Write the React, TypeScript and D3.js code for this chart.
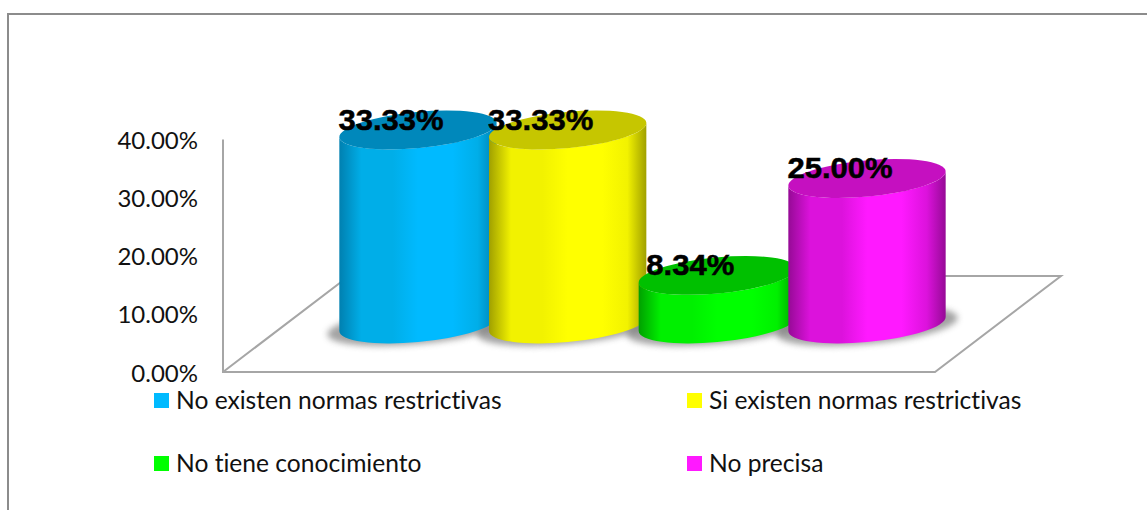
import React from "react";
import * as d3 from "d3";

const categories = ["No existen normas restrictivas", "Si existen normas restrictivas", "No tiene conocimiento", "No precisa"];
const values = [33.33, 33.33, 8.34, 25.0];
const valueLabels = ["33.33%", "33.33%", "8.34%", "25.00%"];
const tickValues = [0, 10, 20, 30, 40];
const tickLabels = ["0.00%", "10.00%", "20.00%", "30.00%", "40.00%"];
const sideColors = ["#00baff", "#ffff00", "#00ff00", "#ff19ff"];
const edgeColors = ["#0080b0", "#a0a000", "#00a000", "#960a96"];
const midColors = ["#00aee8", "#f2f200", "#00f000", "#dc12dc"];
const topColors = ["#0088bb", "#c6c600", "#00c000", "#c510c0"];

const W = 1147, H = 510;
const axisY = d3.scaleLinear().domain([0, 40]).range([372, 139.5]);
const barDepth = d3.scaleLinear().domain([0, 40]).range([0, 232.8]);
const xBand = d3.scalePoint<number>().domain([0, 1, 2, 3]).range([418, 867]);
const BASE_Y = 324, RX = 79, RY = 18, TILT = -5.4;
const rad = (TILT * Math.PI) / 180;
const tx = Math.sqrt(RX * RX * Math.cos(rad) ** 2 + RY * RY * Math.sin(rad) ** 2);
const ty = ((RX * RX - RY * RY) * Math.sin(-rad) * Math.cos(rad)) / tx;

function body(cx: number, top: number, base: number) {
  return `M${cx - tx},${top + ty} L${cx - tx},${base + ty} A${RX},${RY} ${TILT} 0 0 ${cx + tx},${base - ty} L${cx + tx},${top - ty} A${RX},${RY} ${TILT} 0 1 ${cx - tx},${top + ty} Z`;
}

const calibri = "Lato, Carlito, sans-serif";
const noLig = { fontVariantLigatures: "none" } as React.CSSProperties;

export default function App() {
  return (
    <svg width={W} height={H} style={{ position: "absolute", left: 0, top: 0, background: "#fff" }}>
      <defs>
        {categories.map((_, i) => (
          <linearGradient key={i} id={`g${i}`} x1="0" x2="1" y1="0" y2="0">
            <stop offset="0" stopColor={edgeColors[i]} />
            <stop offset="0.14" stopColor={midColors[i]} />
            <stop offset="0.34" stopColor={midColors[i]} />
            <stop offset="0.5" stopColor={sideColors[i]} />
            <stop offset="0.72" stopColor={sideColors[i]} />
            <stop offset="0.88" stopColor={midColors[i]} />
            <stop offset="1" stopColor={edgeColors[i]} />
          </linearGradient>
        ))}
        <filter id="blur" x="-20%" y="-60%" width="140%" height="220%">
          <feGaussianBlur stdDeviation="3" />
        </filter>
      </defs>

      <path d={`M8,510 L8,14 L${W},14`} fill="none" stroke="#8c8c8c" strokeWidth={2} />

      <path
        d={`M223,${axisY(40)} L223,${axisY(0)} L935,${axisY(0)} L1061,276 L349,276 L223,${axisY(0)}`}
        fill="none" stroke="#a6a6a6" strokeWidth={2}
      />

      {tickValues.map((t, i) => (
        <text key={t} x={198} y={axisY(t) + 9.5} textAnchor="end" fontFamily={calibri} fontSize={24} fill="#111" style={noLig}>
          {tickLabels[i]}
        </text>
      ))}

      {values.map((_, i) => (
        <ellipse key={i} cx={xBand(i)} cy={BASE_Y + 2} rx={91} ry={18}
          transform={`rotate(${TILT} ${xBand(i)} ${BASE_Y + 2})`}
          fill="#666" opacity={0.6} filter="url(#blur)" />
      ))}

      {values.map((v, i) => {
        const cx = xBand(i)!;
        const top = BASE_Y - barDepth(v);
        return (
          <g key={i}>
            <path d={body(cx, top, BASE_Y)} fill={`url(#g${i})`} />
            <ellipse cx={cx} cy={top} rx={RX} ry={RY} transform={`rotate(${TILT} ${cx} ${top})`} fill={topColors[i]} />
          </g>
        );
      })}

      {values.map((v, i) => {
        const lx = xBand(i)! - 27;
        const ly = BASE_Y - barDepth(v);
        return (
          <text key={i} transform={`translate(${lx},${ly - 0.5}) scale(1.07,1)`} textAnchor="middle"
            fontFamily="Liberation Sans, Arial, sans-serif" fontWeight={700} fontSize={29}
            stroke="#000" strokeWidth={0.5} fill="#000">
            {valueLabels[i]}
          </text>
        );
      })}

      {categories.map((c, i) => {
        const lx = i % 2 === 0 ? 154 : 687;
        const ly = i < 2 ? 393 : 456;
        return (
          <g key={c}>
            <rect x={lx} y={ly} width={15} height={15} fill={sideColors[i]} />
            <text x={lx + 22} y={ly + 16} fontFamily={calibri} fontSize={24.6} fill="#111" style={noLig}>{c}</text>
          </g>
        );
      })}
    </svg>
  );
}
